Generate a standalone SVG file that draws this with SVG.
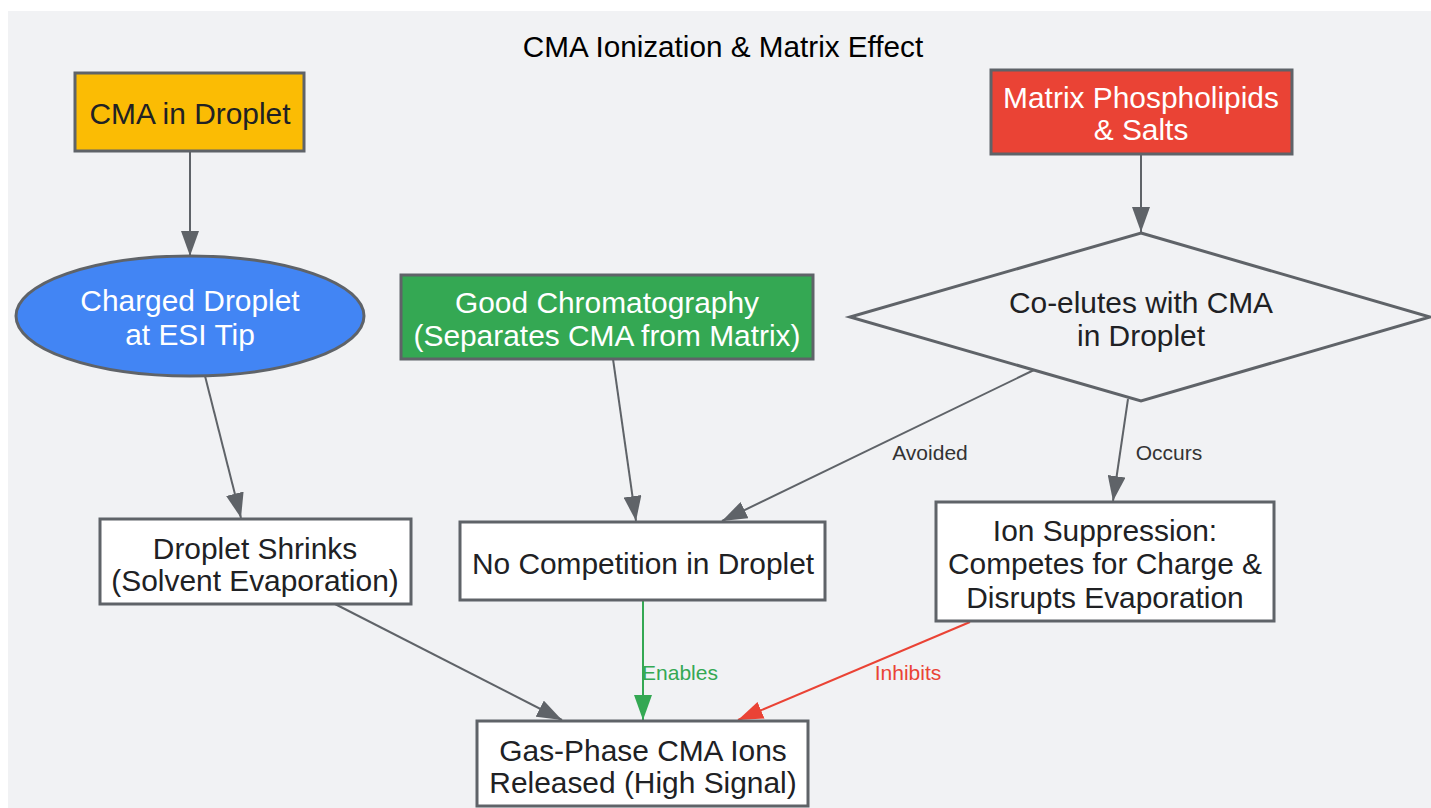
<svg xmlns="http://www.w3.org/2000/svg" width="1431" height="808" viewBox="0 0 1431 808">
<style>
text{font-family:"Liberation Sans",Arial,sans-serif;text-anchor:middle;dominant-baseline:central}
.n{font-size:29.9px;fill:#202124}
.w{font-size:29.9px;fill:#ffffff}
.title{font-size:29.7px;fill:#000000}
.shape{stroke:#5f6368;stroke-width:3}
.e{fill:none;stroke-width:2}
.g{stroke:#5f6368}
.gr{stroke:#34a853}
.rd{stroke:#ea4335}
.lbl{font-size:21px}
</style>
<defs>
<marker id="ag" viewBox="0 0 25 18" refX="25" refY="9" markerWidth="25" markerHeight="18" markerUnits="userSpaceOnUse" orient="auto"><path d="M0,0 L25,9 L0,18 z" fill="#5f6368"/></marker>
<marker id="agr" viewBox="0 0 25 18" refX="25" refY="9" markerWidth="25" markerHeight="18" markerUnits="userSpaceOnUse" orient="auto"><path d="M0,0 L25,9 L0,18 z" fill="#34a853"/></marker>
<marker id="ard" viewBox="0 0 25 18" refX="25" refY="9" markerWidth="25" markerHeight="18" markerUnits="userSpaceOnUse" orient="auto"><path d="M0,0 L25,9 L0,18 z" fill="#ea4335"/></marker>
</defs>
<rect x="0" y="0" width="1431" height="808" fill="#ffffff"/>
<rect x="8" y="11" width="1423" height="797" fill="#f1f2f4"/>
<text class="title" x="723" y="46">CMA Ionization &amp; Matrix Effect</text>

<g id="connectors">
<line class="e g" x1="190" y1="151" x2="190" y2="256" marker-end="url(#ag)"/>
<line class="e g" x1="205" y1="376" x2="241" y2="518" marker-end="url(#ag)"/>
<line class="e g" x1="613" y1="359" x2="636" y2="521" marker-end="url(#ag)"/>
<line class="e g" x1="1141" y1="154" x2="1141" y2="232" marker-end="url(#ag)"/>
<line class="e g" x1="1034" y1="370" x2="722" y2="521" marker-end="url(#ag)"/>
<line class="e g" x1="1128" y1="399" x2="1113" y2="501" marker-end="url(#ag)"/>
<line class="e g" x1="335" y1="604" x2="562" y2="720" marker-end="url(#ag)"/>
<line class="e gr" x1="643" y1="600" x2="643" y2="720" marker-end="url(#agr)"/>
<line class="e rd" x1="970" y1="622" x2="738" y2="720" marker-end="url(#ard)"/>
<text class="lbl" x="930" y="452" fill="#333333">Avoided</text>
<text class="lbl" x="1169" y="452" fill="#333333">Occurs</text>
<text class="lbl" x="680" y="672" fill="#34a853">Enables</text>
<text class="lbl" x="908" y="672" fill="#ea4335">Inhibits</text>
</g>

<g id="cma">
<rect class="shape" x="75" y="73" width="229" height="78" fill="#fbbc04"/>
<text class="n" x="190" y="113">CMA in Droplet</text>
</g>
<g id="charged">
<ellipse class="shape" cx="190" cy="316" rx="174" ry="60" fill="#4285f4"/>
<text class="w" x="190" y="300">Charged Droplet</text>
<text class="w" x="190" y="334">at ESI Tip</text>
</g>
<g id="chrom">
<rect class="shape" x="401" y="275" width="412" height="84" fill="#34a853"/>
<text class="w" x="607" y="302">Good Chromatography</text>
<text class="w" x="607" y="335">(Separates CMA from Matrix)</text>
</g>
<g id="matrix">
<rect class="shape" x="991" y="70" width="301" height="84" fill="#ea4335"/>
<text class="w" x="1141" y="97">Matrix Phospholipids</text>
<text class="w" x="1141" y="129">&amp; Salts</text>
</g>
<g id="coelute">
<polygon class="shape" points="1141,233 1430,317 1141,401 850,317" fill="#f1f2f4"/>
<text class="n" x="1141" y="302">Co-elutes with CMA</text>
<text class="n" x="1141" y="335">in Droplet</text>
</g>
<g id="shrinks">
<rect class="shape" x="100" y="519" width="311" height="85" fill="#ffffff"/>
<text class="n" x="255" y="548">Droplet Shrinks</text>
<text class="n" x="255" y="580">(Solvent Evaporation)</text>
</g>
<g id="nocomp">
<rect class="shape" x="460" y="522" width="365" height="78" fill="#ffffff"/>
<text class="n" x="643" y="563">No Competition in Droplet</text>
</g>
<g id="suppression">
<rect class="shape" x="936" y="502" width="338" height="119" fill="#ffffff"/>
<text class="n" x="1105" y="530">Ion Suppression:</text>
<text class="n" x="1105" y="563">Competes for Charge &amp;</text>
<text class="n" x="1105" y="597">Disrupts Evaporation</text>
</g>
<g id="gasphase">
<rect class="shape" x="477" y="721" width="331" height="85" fill="#ffffff"/>
<text class="n" x="643" y="750">Gas-Phase CMA Ions</text>
<text class="n" x="643" y="782">Released (High Signal)</text>
</g>
</svg>
